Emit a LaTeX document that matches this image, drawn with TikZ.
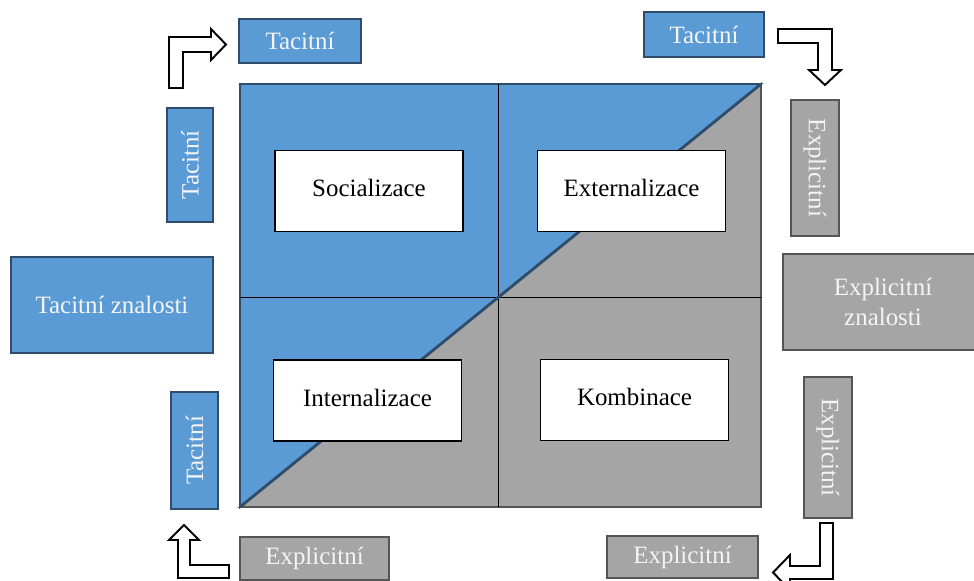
\documentclass[tikz,border=0pt]{standalone}
\usepackage{fontspec}
\setmainfont{Liberation Serif}

\definecolor{modra}{HTML}{5B9BD5}
\definecolor{modraokraj}{HTML}{2F4D6B}
\definecolor{seda}{HTML}{A5A5A5}
\definecolor{sedaokraj}{HTML}{555555}
\definecolor{bilytext}{HTML}{F4F4F4}

\begin{document}
\begin{tikzpicture}[
    x=0.02cm, y=-0.02cm,
    box/.style={rectangle, line width=1.1pt, inner sep=0pt, align=center,
        font=\fontsize{14.2}{17}\selectfont},
    tac/.style={box, fill=modra, draw=modraokraj, text=bilytext},
    expl/.style={box, fill=seda, draw=sedaokraj, text=bilytext},
    faze/.style={box, fill=white, draw=black, minimum width=3.76cm, minimum height=1.62cm,
        text depth=0.12cm},
    sipka/.style={draw=black, fill=white, line width=1.1pt, line join=miter},
]
\useasboundingbox (0,0) rectangle (974,581);

% Matice
\coordinate (sw) at (240,507);
\coordinate (nw) at (240,84);
\coordinate (ne) at (761,84);
\coordinate (se) at (761,507);
\fill[modra, draw=modraokraj, line width=1.1pt] (sw) -- (nw) -- (ne) -- cycle;
\fill[seda, draw=sedaokraj, line width=1.1pt] (sw) -- (se) -- (ne) -- cycle;
\draw[black, line width=0.45pt] (498,84) -- (498,507);
\draw[black, line width=0.45pt] (240,297) -- (761,297);
\draw[modraokraj, line width=1.6pt] (sw) -- (ne);

% Fáze
\node[faze] (soc) at (369,191) {Socializace};
\node[faze] (ext) at (631.5,191) {Externalizace};
\node[faze] (int) at (367.5,400.5) {Internalizace};
\node[faze] (komb) at (634.5,400) {Kombinace};

% Znalosti
\node[tac, minimum width=4.04cm, minimum height=1.92cm] (tacz) at (112,305) {Tacitní znalosti};
\node[expl, minimum width=4cm, minimum height=1.92cm] (explz) at (883,302) {Explicitní\\znalosti};

% Popisky
\node[tac, minimum width=2.44cm, minimum height=0.88cm] (tac1) at (300,41) {Tacitní};
\node[tac, minimum width=2.4cm, minimum height=0.9cm] (tac2) at (704,34.5) {Tacitní};
\node[tac, rotate=90, minimum width=2.28cm, minimum height=0.92cm] (tac3) at (190,165) {Tacitní};
\node[tac, rotate=90, minimum width=2.34cm, minimum height=0.94cm] (tac4) at (194.5,450.5) {Tacitní};
\node[expl, rotate=-90, minimum width=2.72cm, minimum height=0.96cm] (expl1) at (815,168) {Explicitní};
\node[expl, rotate=-90, minimum width=2.82cm, minimum height=0.96cm] (expl2) at (828,447.5) {Explicitní};
\node[expl, minimum width=2.98cm, minimum height=0.86cm] (expl3) at (314.5,558.5) {Explicitní};
\node[expl, minimum width=3.02cm, minimum height=0.84cm] (expl4) at (682.5,557) {Explicitní};

% Šipky
\draw[sipka] (169,88) -- (169,37) -- (211,37) -- (211,29) -- (226,44.5)
    -- (211,60) -- (211,52) -- (183,52) -- (183,88) -- cycle;
\draw[sipka] (778,29) -- (832,29) -- (832,70) -- (841,70) -- (825,85)
    -- (809,70) -- (818,70) -- (818,43) -- (778,43) -- cycle;
\draw[sipka] (178,578) -- (178,540) -- (169,540) -- (184,525) -- (199,540)
    -- (190,540) -- (190,565) -- (229,565) -- (229,578) -- cycle;
\draw[sipka] (820,523) -- (833,523) -- (833,579) -- (790,579) -- (790,590)
    -- (773,572.5) -- (790,555) -- (790,566) -- (820,566) -- cycle;

\end{tikzpicture}
\end{document}
